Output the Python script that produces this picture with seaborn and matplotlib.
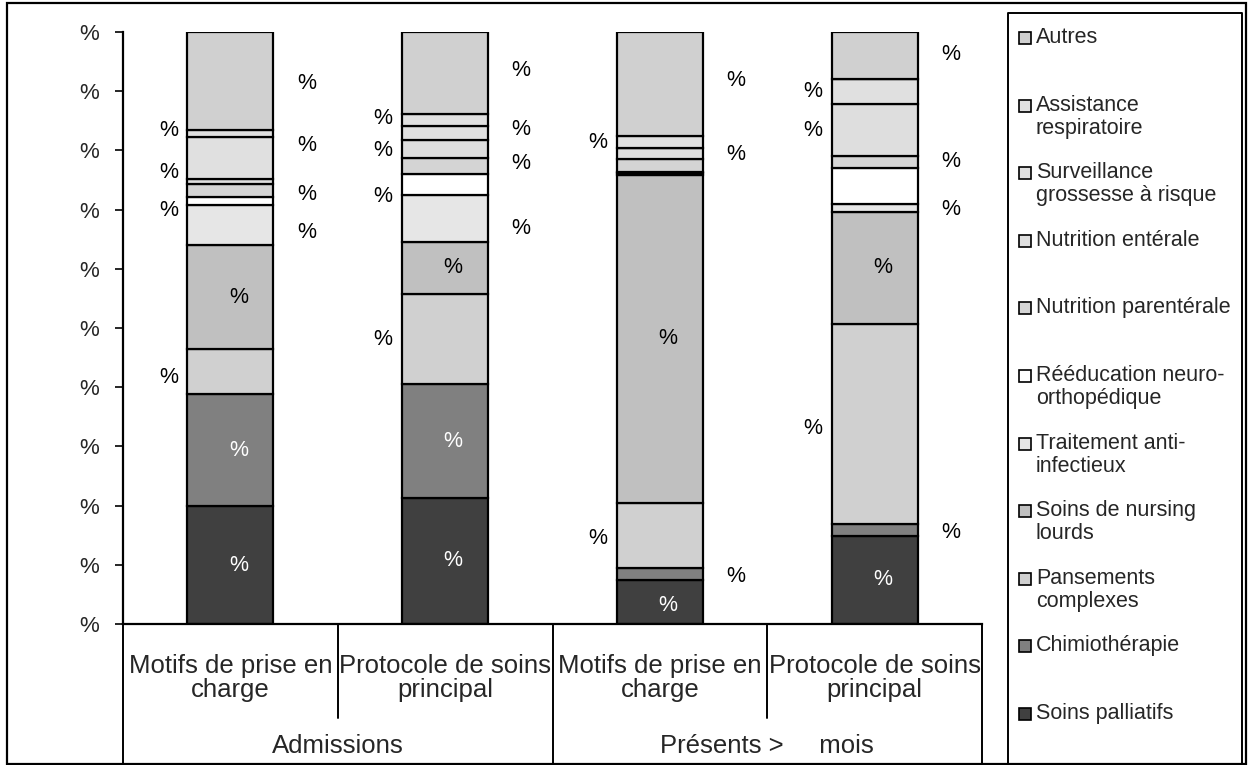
import matplotlib
matplotlib.use("Agg")
import matplotlib.pyplot as plt
from matplotlib import transforms
from matplotlib.patches import Rectangle
import pandas as pd
import seaborn as sns

# ---- data -----------------------------------------------------------------
bar_keys = ["adm_motifs", "adm_protocole", "pres_motifs", "pres_protocole"]
bar_labels = ["Motifs de prise en\ncharge", "Protocole de soins\nprincipal",
              "Motifs de prise en\ncharge", "Protocole de soins\nprincipal"]
group_labels = ["Admissions", "Présents >     mois"]
y_tick_labels = ["%"] * 11

# stacked from bottom to top
series = ["Soins palliatifs", "Chimiothérapie", "Pansements\ncomplexes",
          "Soins de nursing\nlourds", "Traitement anti-\ninfectieux",
          "Rééducation neuro-\northopédique", "Nutrition parentérale",
          "Nutrition entérale", "Surveillance\ngrossesse à risque",
          "Assistance\nrespiratoire", "Autres"]

soins_palliatifs      = [19.9, 21.3,  7.4, 14.9]
chimiotherapie        = [18.9, 19.2,  2.1,  2.0]
pansements_complexes  = [ 7.6, 15.3, 10.9, 33.8]
soins_nursing         = [17.6,  8.8, 55.5, 18.9]
traitement_infectieux = [ 6.8,  7.8,  0.3,  1.4]
reeducation           = [ 1.4,  3.6,  0.2,  6.0]
nutrition_parenterale = [ 2.1,  2.8,  2.1,  2.0]
nutrition_enterale    = [ 0.9,  3.0,  1.9,  8.9]
surveillance_grossesse= [ 7.1,  2.3,  0.0,  4.1]
assistance_respi      = [ 1.1,  2.0,  2.1,  0.0]
autres                = [16.6, 13.9, 17.5,  8.0]

values = [soins_palliatifs, chimiotherapie, pansements_complexes, soins_nursing,
          traitement_infectieux, reeducation, nutrition_parenterale,
          nutrition_enterale, surveillance_grossesse, assistance_respi, autres]

# ---- styling --------------------------------------------------------------
colors = ["#404040", "#808080", "#d0d0d0", "#c0c0c0", "#e6e6e6", "#ffffff",
          "#d4d4d4", "#dedede", "#e0e0e0", "#e0e0e0", "#d0d0d0"]
label_colors = ["white", "white"] + ["black"] * 9

# label placement per bar (one entry per series): side and vertical nudge in px
label_layout = [
    [("in", 0), ("in", 0), ("L", -6), ("in", 0), ("R", -8), ("L", -10),
     ("R", -4), ("L", 9), ("R", 12), ("L", 3), ("R", -2)],
    [("in", 0), ("in", 0), ("L", -1), ("in", 0), ("R", -10), ("L", -12),
     ("R", 2), ("L", -2), ("R", 3), ("L", 2), ("R", 3)],
    [("in", -3), ("R", -3), ("L", -3), ("in", 0), None, None,
     None, ("R", -1), None, ("L", -1), ("R", 3)],
    [("in", 0), ("R", -3), ("L", -5), ("in", 0), ("R", -2), None,
     ("R", 1), ("L", -1), ("L", 0), None, ("R", 1)],
]
side_dx = {"in": 8, "L": -62, "R": 76}

W, H = 1249, 765
FS = 15.5        # value labels, ticks, legend
FS_CAT = 18.5    # category axis labels

sns.set_style("white")
plt.rcParams["font.family"] = ["Liberation Sans", "DejaVu Sans"]

fig = plt.figure(figsize=(W / 100, H / 100), dpi=100)
ax_left, ax_right, ax_top, ax_bot = 123, 982, 32, 624
ax = fig.add_axes([ax_left / W, (H - ax_bot) / H,
                   (ax_right - ax_left) / W, (ax_bot - ax_top) / H])
ax.set_facecolor("none")

bottom = [0.0] * len(bar_keys)
for name, vals, col in zip(series, values, colors):
    df = pd.DataFrame({"bar": bar_keys, "value": vals})
    sns.barplot(data=df, x="bar", y="value", order=bar_keys, color=col,
                saturation=1, width=0.4, errorbar=None, bottom=bottom,
                edgecolor="black", linewidth=1.6, ax=ax)
    bottom = [b + v for b, v in zip(bottom, vals)]

# value labels
for bi in range(len(bar_keys)):
    base = 0.0
    for si in range(len(series)):
        v = values[si][bi]
        spec = label_layout[bi][si]
        if spec is not None:
            side, dy = spec
            col = label_colors[si] if side == "in" else "black"
            ax.annotate("%", xy=(bi, base + v / 2), xytext=(side_dx[side], dy),
                        textcoords="offset pixels", ha="center", va="center",
                        fontsize=FS, color=col)
        base += v

ax.set_xlim(-0.5, len(bar_keys) - 0.5)
ax.set_ylim(0, 100)
ax.set_yticks(range(0, 101, 10))
ax.set_yticklabels(y_tick_labels, fontsize=16)
ax.set_xticks([])
ax.set_xlabel("")
ax.set_ylabel("")
ax.tick_params(axis="y", direction="out", length=6, width=1.4, pad=11,
               left=True)
for s in ["top", "right"]:
    ax.spines[s].set_visible(False)
for s in ["left", "bottom"]:
    ax.spines[s].set_linewidth(1.6)
    ax.spines[s].set_color("black")

# two-level category axis
blend = transforms.blended_transform_factory(ax.transData, ax.transAxes)
ax_h = ax_bot - ax_top
full_y = -(H - ax_bot) / ax_h
short_y = -(718 - ax_bot) / ax_h
for i, lab in enumerate(bar_labels):
    ax.text(i, -(678 - ax_bot) / ax_h, lab, transform=blend, ha="center",
            va="center", fontsize=FS_CAT, linespacing=1.05)
for g, lab in enumerate(group_labels):
    ax.text(2 * g + 0.5, -(746 - ax_bot) / ax_h, lab, transform=blend,
            ha="center", va="center", fontsize=FS_CAT)
for x in [-0.5, 1.5, 3.5]:
    ax.plot([x, x], [0, full_y], transform=blend, color="black", lw=1.4,
            clip_on=False)
for x in [0.5, 2.5]:
    ax.plot([x, x], [0, short_y], transform=blend, color="black", lw=1.4,
            clip_on=False)

# outer frame and legend panel
over = fig.add_axes([0, 0, 1, 1])
over.set_xlim(0, W)
over.set_ylim(H, 0)
over.axis("off")
over.add_patch(Rectangle((7, 3), 1239, 761, fill=False, lw=1.6,
                         edgecolor="black"))
over.plot([1008, 1008, 1242, 1242], [H + 5, 13, 13, H + 5], color="black",
          lw=1.4, clip_on=False)

legend_top, legend_step = 38, 67.6
for k, si in enumerate(range(len(series) - 1, -1, -1)):
    yc = legend_top + k * legend_step
    over.add_patch(Rectangle((1019, yc - 6), 12, 12, facecolor=colors[si],
                             edgecolor="black", lw=1.2))
    over.text(1036, yc - 11, series[si], ha="left", va="top", fontsize=FS,
              linespacing=1.12)

fig.savefig("out.png", dpi=100)
